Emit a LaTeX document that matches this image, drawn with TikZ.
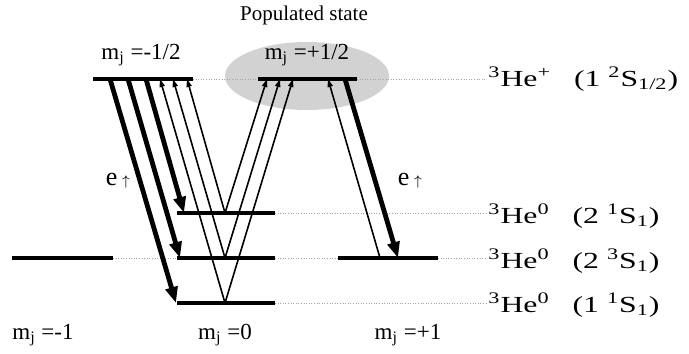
\documentclass[tikz,border=0pt]{standalone}
\usepackage{fontspec}
\setmainfont{Liberation Serif}
\newfontfamily\widefont[FakeStretch=1.38]{Liberation Serif}
\usetikzlibrary{arrows.meta, shapes.geometric}

\begin{document}
\begin{tikzpicture}[x=0.5pt, y=-0.5pt,
      level/.style={line width=2pt},
      guide/.style={gray!70, line width=0.3pt, densely dotted},
      strong/.style={line width=2.4pt, -{Triangle[length=8pt, width=6pt]}},
      weak/.style={line width=0.8pt, -{Triangle[length=4pt, width=2.6pt]}},
      mlab/.style={font=\fontsize{11.5}{13}\selectfont},
      slab/.style={anchor=west, inner sep=1pt, font=\widefont\fontsize{11.5}{14}\selectfont}]
    \useasboundingbox (0,0) rectangle (689,353);
    % populated state
    \node[ellipse, fill=gray!35, inner sep=0pt, minimum width=82pt, minimum height=34pt] (pop) at (307,76) {};
    \node[font=\fontsize{10.5}{12}\selectfont] (poplab) at (304,15) {Populated state};
    % level end points
    \coordinate (a1) at (93,79);   \coordinate (a2) at (193,79);
    \coordinate (b1) at (258,79);  \coordinate (b2) at (357,79);
    \coordinate (c1) at (177,213); \coordinate (c2) at (275,213);
    \coordinate (d1) at (177,258); \coordinate (d2) at (275,258);
    \coordinate (e1) at (177,303); \coordinate (e2) at (275,303);
    \coordinate (f1) at (12,258);  \coordinate (f2) at (113,258);
    \coordinate (g1) at (338,258); \coordinate (g2) at (438,258);
    % state labels
    \node[slab] (sa) at (486,79)  {\textsuperscript{3}He\textsuperscript{+}\hspace{1em}(1 \textsuperscript{2}S\textsubscript{1/2})};
    \node[slab] (sc) at (486,216) {\textsuperscript{3}He\textsuperscript{0}\hspace{1em}(2 \textsuperscript{1}S\textsubscript{1})};
    \node[slab] (sd) at (486,261) {\textsuperscript{3}He\textsuperscript{0}\hspace{1em}(2 \textsuperscript{3}S\textsubscript{1})};
    \node[slab] (se) at (486,305) {\textsuperscript{3}He\textsuperscript{0}\hspace{1em}(1 \textsuperscript{1}S\textsubscript{1})};
    \draw[guide] (a2) -- (b1);
    \draw[guide] (b2) -- (sa.west);
    \draw[guide] (c2) -- (sc.west |- c2);
    \draw[guide] (f2) -- (d1);
    \draw[guide] (d2) -- (g1);
    \draw[guide] (g2) -- (sd.west |- g2);
    \draw[guide] (e2) -- (se.west |- e2);
    % levels
    \draw[level] (a1) -- (a2);
    \draw[level] (b1) -- (b2);
    \draw[level] (c1) -- (c2);
    \draw[level] (d1) -- (d2);
    \draw[level] (e1) -- (e2);
    \draw[level] (f1) -- (f2);
    \draw[level] (g1) -- (g2);
    % transition points
    \coordinate (t1) at (110,79);  \coordinate (t2) at (128,79);  \coordinate (t3) at (146,79);
    \coordinate (u1) at (160,79);  \coordinate (u2) at (173,79);  \coordinate (u3) at (187,79);
    \coordinate (v1) at (267,79);  \coordinate (v2) at (280,79);  \coordinate (v3) at (293,79);
    \coordinate (w1) at (328,79);  \coordinate (w2) at (345,79);
    \coordinate (oc) at (225,213); \coordinate (od) at (225,258); \coordinate (oe) at (225,303);
    \coordinate (pe) at (176,303); \coordinate (pd) at (180,258); \coordinate (pc) at (184,213);
    \coordinate (q1) at (380,258); \coordinate (q2) at (398,258);
    % transitions
    \draw[strong] (t1) -- (pe);
    \draw[strong] (t2) -- (pd);
    \draw[strong] (t3) -- (pc);
    \draw[weak] (oe) -- (u1);
    \draw[weak] (od) -- (u2);
    \draw[weak] (oc) -- (u3);
    \draw[weak] (oc) -- (v1);
    \draw[weak] (od) -- (v2);
    \draw[weak] (oe) -- (v3);
    \draw[weak] (q1) -- (w1);
    \draw[strong] (w2) -- (q2);
    % labels
    \node[mlab] (ml) at (141,55) {m\textsubscript{j} =-1/2};
    \node[mlab] (mr) at (307,55) {m\textsubscript{j} =+1/2};
    \node[mlab] (m1) at (43,335)  {m\textsubscript{j} =-1};
    \node[mlab] (m2) at (225,335) {m\textsubscript{j} =0};
    \node[mlab] (m3) at (408,335) {m\textsubscript{j} =+1};
    \node[font=\fontsize{13}{15}\selectfont] (el) at (118,181) {e\,{\scriptsize$\uparrow$}};
    \node[font=\fontsize{13}{15}\selectfont] (er) at (410,181) {e\,{\scriptsize$\uparrow$}};
  \end{tikzpicture}
\end{document}
